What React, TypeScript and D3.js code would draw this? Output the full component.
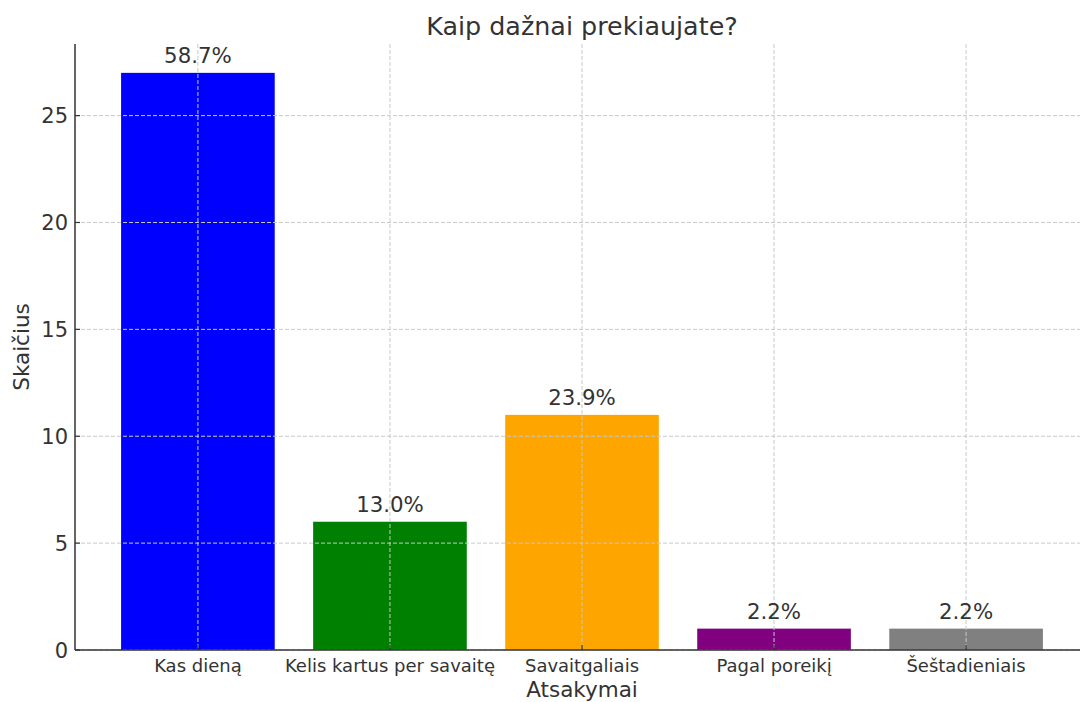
import React from "react";
import * as d3 from "d3";

const categories = ["Kas dieną", "Kelis kartus per savaitę", "Savaitgaliais", "Pagal poreikį", "Šeštadieniais"];
const counts = [27, 6, 11, 1, 1];
const percentLabels = ["58.7%", "13.0%", "23.9%", "2.2%", "2.2%"];
const barColors = ["#0000ff", "#008000", "#ffa500", "#800080", "#808080"];
const yTicks = [0, 5, 10, 15, 20, 25];

const W = 1080;
const H = 702;
const FONT = "'DejaVu Sans', sans-serif";
const TEXT = "#333333";

export default function App() {
  const left = 75;
  const bottom = 650;
  const top = 44;
  const x = d3.scaleLinear().domain([-0.64, categories.length - 1 + 0.64]).range([left, 1089]);
  const yMax = d3.max(counts)! * 1.05;
  const y = d3.scaleLinear().domain([0, yMax]).range([bottom, top]);
  const barW = x(0.4) - x(-0.4);
  const idx = d3.range(categories.length);

  return (
    <svg width={W} height={H} style={{ position: "absolute", left: 0, top: 0, background: "#fff" }} fontFamily={FONT}>
      {idx.map((i) => (
        <rect key={i} x={x(i) - barW / 2} y={y(counts[i])} width={barW} height={y(0) - y(counts[i])} fill={barColors[i]} />
      ))}
      <g stroke="#c8c8c8" strokeWidth={1} strokeDasharray="4,2" fill="none">
        {yTicks.map((t) => (
          <line key={"gy" + t} x1={left} x2={W} y1={y(t)} y2={y(t)} />
        ))}
        {idx.map((i) => (
          <line key={"gx" + i} x1={x(i)} x2={x(i)} y1={top} y2={bottom} />
        ))}
      </g>
      <line x1={left} x2={left} y1={top} y2={bottom} stroke="#333" strokeWidth={1.5} />
      <line x1={left} x2={W} y1={bottom} y2={bottom} stroke="#333" strokeWidth={1.5} />
      {yTicks.map((t) => (
        <g key={"yt" + t}>
          <line x1={left} x2={left + 5} y1={y(t)} y2={y(t)} stroke="#333" strokeWidth={1.2} />
          <text x={left - 7} y={y(t)} dy="0.36em" textAnchor="end" fontSize={21} fill={TEXT}>
            {t}
          </text>
        </g>
      ))}
      {idx.map((i) => (
        <g key={"xt" + i}>
          <line x1={x(i)} x2={x(i)} y1={bottom} y2={bottom - 5} stroke="#333" strokeWidth={1.2} />
          <text x={x(i)} y={672} textAnchor="middle" fontSize={18} fill={TEXT}>
            {categories[i]}
          </text>
        </g>
      ))}
      {idx.map((i) => (
        <text key={"bl" + i} x={x(i)} y={y(counts[i]) - 10} textAnchor="middle" fontSize={21.3} fill={TEXT}>
          {percentLabels[i]}
        </text>
      ))}
      <text x={(left + 1089) / 2} y={35} textAnchor="middle" fontSize={25.4} fill={TEXT}>
        Kaip dažnai prekiaujate?
      </text>
      <text x={(left + 1089) / 2} y={697} textAnchor="middle" fontSize={21.5} fill={TEXT}>
        Atsakymai
      </text>
      <text transform={`translate(29, ${(top + bottom) / 2}) rotate(-90)`} textAnchor="middle" fontSize={21.5} fill={TEXT}>
        Skaičius
      </text>
    </svg>
  );
}
